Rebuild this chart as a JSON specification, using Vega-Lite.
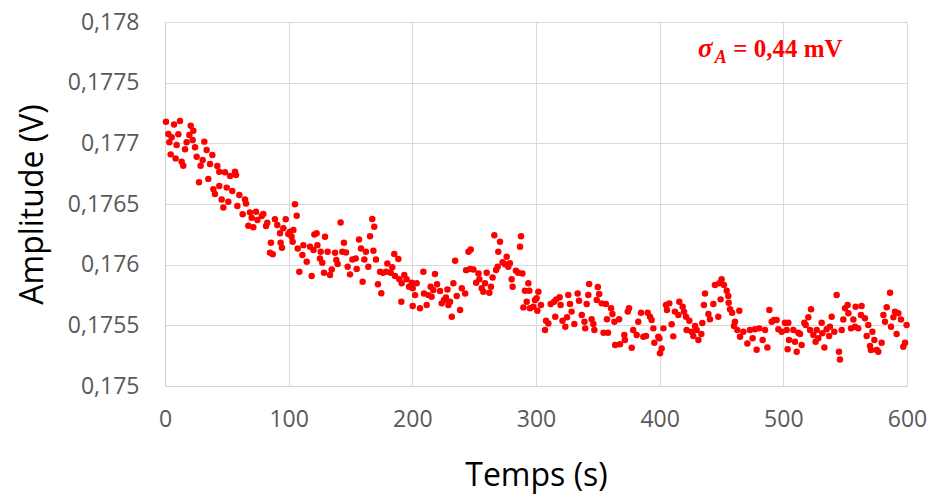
{
  "$schema": "https://vega.github.io/schema/vega-lite/v6.json",
  "autosize": "none",
  "width": 742,
  "height": 364,
  "padding": {"left": 165, "top": 22, "right": 22, "bottom": 110},
  "background": "white",
  "config": {
    "view": {"stroke": null},
    "axis": {
      "gridColor": "#d9d9d9",
      "domainColor": "#d0d0d0",
      "ticks": false,
      "labelFlush": false,
      "labelFont": "Open Sans",
      "labelFontSize": 23,
      "labelColor": "#595959",
      "titleFont": "Open Sans",
      "titleFontSize": 32,
      "titleFontWeight": "normal",
      "titleColor": "#000000"
    }
  },
  "datasets": {
    "pts": [
      {"t":0.8,"v":0.177178},{"t":7.3,"v":0.177156},{"t":12.1,"v":0.177184},{"t":20.8,"v":0.177145},{"t":22.9,"v":0.177104},{"t":2.7,"v":0.177077},{"t":10.8,"v":0.177074},{"t":19.7,"v":0.177069},{"t":5.4,"v":0.17705},{"t":3.5,"v":0.177008},{"t":9.4,"v":0.176986},{"t":17.5,"v":0.177008},{"t":22.4,"v":0.177027},{"t":16.2,"v":0.176951},{"t":24.3,"v":0.176967},{"t":31.8,"v":0.177014},{"t":33.7,"v":0.176945},{"t":38.3,"v":0.176904},{"t":4.6,"v":0.176909},{"t":8.6,"v":0.176876},{"t":13.5,"v":0.176849},{"t":14.8,"v":0.176816},{"t":25.6,"v":0.17689},{"t":30.5,"v":0.176863},{"t":28.8,"v":0.176816},{"t":36.4,"v":0.17683},{"t":42.3,"v":0.176813},{"t":43.9,"v":0.176766},{"t":48.5,"v":0.176761},{"t":52.6,"v":0.176731},{"t":56.6,"v":0.176766},{"t":57.4,"v":0.176739},{"t":27.5,"v":0.176679},{"t":35.0,"v":0.176707},{"t":39.1,"v":0.176621},{"t":43.9,"v":0.176649},{"t":49.9,"v":0.176635},{"t":40.4,"v":0.176582},{"t":45.8,"v":0.176538},{"t":51.2,"v":0.176519},{"t":47.2,"v":0.176472},{"t":54.4,"v":0.176607},{"t":60.1,"v":0.176574},{"t":58.5,"v":0.176483},{"t":64.7,"v":0.176538},{"t":65.5,"v":0.176505},{"t":62.8,"v":0.176415},{"t":68.7,"v":0.176431},{"t":73.6,"v":0.176437},{"t":70.1,"v":0.176387},{"t":74.7,"v":0.176368},{"t":78.2,"v":0.176401},{"t":79.5,"v":0.176418},{"t":82.7,"v":0.176346},{"t":67.4,"v":0.176321},{"t":71.4,"v":0.176308},{"t":81.7,"v":0.176319},{"t":88.9,"v":0.176374},{"t":97.6,"v":0.176374},{"t":90.8,"v":0.176327},{"t":93.0,"v":0.176259},{"t":95.7,"v":0.1763},{"t":99.7,"v":0.176253},{"t":85.7,"v":0.176181},{"t":93.5,"v":0.176181},{"t":94.6,"v":0.17614},{"t":84.9,"v":0.176099},{"t":87.1,"v":0.176085},
      {"t":105.1,"v":0.176497},{"t":106.5,"v":0.176404},{"t":101.1,"v":0.176272},{"t":102.4,"v":0.17623},{"t":103.8,"v":0.176285},{"t":103.2,"v":0.176189},{"t":107.3,"v":0.176133},{"t":111.9,"v":0.176161},{"t":111.1,"v":0.176079},{"t":114.6,"v":0.176024},{"t":108.6,"v":0.175942},{"t":117.3,"v":0.176148},{"t":120.8,"v":0.176249},{"t":122.6,"v":0.176258},{"t":120.1,"v":0.17612},{"t":123.2,"v":0.176161},{"t":125.9,"v":0.176106},{"t":125.3,"v":0.176051},{"t":118.6,"v":0.175906},{"t":127.2,"v":0.176016},{"t":129.4,"v":0.17623},{"t":131.5,"v":0.176106},{"t":128.6,"v":0.175934},{"t":134.8,"v":0.175961},{"t":133.4,"v":0.175914},{"t":137.5,"v":0.176098},{"t":138.5,"v":0.176038},{"t":139.6,"v":0.176005},{"t":142.0,"v":0.176348},{"t":144.7,"v":0.17618},{"t":143.4,"v":0.176106},{"t":146.4,"v":0.1761},{"t":147.7,"v":0.175983},{"t":149.6,"v":0.17592},{"t":151.5,"v":0.176043},{"t":154.2,"v":0.176051},{"t":155.0,"v":0.175964},{"t":156.9,"v":0.176208},{"t":158.5,"v":0.176133},{"t":162.5,"v":0.176106},{"t":161.2,"v":0.176043},{"t":164.4,"v":0.175983},{"t":159.8,"v":0.175859},{"t":165.8,"v":0.176235},{"t":167.6,"v":0.176376},{"t":169.2,"v":0.176313},{"t":168.5,"v":0.176114},{"t":170.6,"v":0.176043},{"t":173.9,"v":0.175942},{"t":172.2,"v":0.175838},{"t":174.9,"v":0.175764},{"t":176.2,"v":0.175934},{"t":178.9,"v":0.175942},{"t":179.8,"v":0.17601},{"t":182.5,"v":0.175934},{"t":183.8,"v":0.175978},{"t":185.4,"v":0.176087},{"t":188.7,"v":0.176046},{"t":186.0,"v":0.175906},{"t":189.5,"v":0.175879},{"t":191.4,"v":0.175846},{"t":193.5,"v":0.175914},{"t":195.4,"v":0.175879},{"t":197.3,"v":0.175819},{"t":200.3,"v":0.175805},{"t":191.1,"v":0.175695},{"t":200.3,"v":0.175659},
      {"t":199.5,"v":0.175851},{"t":203.5,"v":0.175846},{"t":202.2,"v":0.175749},{"t":206.2,"v":0.17564},{"t":208.9,"v":0.175942},{"t":209.4,"v":0.175763},{"t":211.6,"v":0.175668},{"t":212.9,"v":0.175749},{"t":214.8,"v":0.175818},{"t":215.6,"v":0.175736},{"t":218.3,"v":0.175923},{"t":216.9,"v":0.175791},{"t":220.0,"v":0.175838},{"t":222.4,"v":0.175783},{"t":223.7,"v":0.175681},{"t":225.6,"v":0.175708},{"t":227.2,"v":0.17573},{"t":228.4,"v":0.175796},{"t":229.2,"v":0.175667},{"t":230.5,"v":0.175695},{"t":231.9,"v":0.175571},{"t":234.6,"v":0.176033},{"t":233.2,"v":0.175846},{"t":235.9,"v":0.175741},{"t":238.6,"v":0.175626},{"t":240.0,"v":0.175805},{"t":242.7,"v":0.175763},{"t":243.5,"v":0.175955},{"t":245.4,"v":0.176106},{"t":247.2,"v":0.176125},{"t":246.7,"v":0.175964},{"t":249.4,"v":0.175961},{"t":251.6,"v":0.175851},{"t":253.5,"v":0.175928},{"t":254.2,"v":0.175879},{"t":256.1,"v":0.175805},{"t":257.4,"v":0.175777},{"t":258.8,"v":0.175846},{"t":260.1,"v":0.175934},{"t":262.3,"v":0.175769},{"t":263.6,"v":0.175818},{"t":264.9,"v":0.175895},{"t":266.3,"v":0.176243},{"t":267.7,"v":0.175956},{"t":269.0,"v":0.175983},{"t":269.5,"v":0.176106},{"t":270.9,"v":0.176188},{"t":273.0,"v":0.176019},{"t":274.9,"v":0.176003},{"t":276.3,"v":0.176065},{"t":277.6,"v":0.175983},{"t":278.9,"v":0.176011},{"t":280.3,"v":0.175879},{"t":281.1,"v":0.175818},{"t":283.8,"v":0.17595},{"t":285.6,"v":0.175934},{"t":287.1,"v":0.176147},{"t":287.9,"v":0.176235},{"t":289.0,"v":0.175928},{"t":289.8,"v":0.175648},{"t":291.1,"v":0.175785},{"t":292.5,"v":0.175695},{"t":293.8,"v":0.175846},{"t":294.6,"v":0.175785},{"t":295.1,"v":0.17564},{"t":297.8,"v":0.175654},{"t":299.2,"v":0.175709},
      {"t":301.9,"v":0.175777},{"t":300.5,"v":0.175723},{"t":304.0,"v":0.175667},{"t":301.1,"v":0.175621},{"t":308.1,"v":0.175538},{"t":307.3,"v":0.175461},{"t":310.0,"v":0.175516},{"t":311.9,"v":0.175676},{"t":314.6,"v":0.175695},{"t":316.4,"v":0.175714},{"t":319.1,"v":0.175731},{"t":319.9,"v":0.175667},{"t":315.6,"v":0.175571},{"t":321.4,"v":0.175538},{"t":323.7,"v":0.175489},{"t":325.1,"v":0.175566},{"t":326.1,"v":0.17575},{"t":327.5,"v":0.175676},{"t":328.8,"v":0.175613},{"t":331.0,"v":0.175511},{"t":333.7,"v":0.175763},{"t":334.8,"v":0.175703},{"t":337.0,"v":0.175585},{"t":339.2,"v":0.17553},{"t":339.8,"v":0.175475},{"t":341.0,"v":0.175676},{"t":343.0,"v":0.17584},{"t":342.3,"v":0.17575},{"t":345.0,"v":0.17555},{"t":346.4,"v":0.175511},{"t":347.2,"v":0.175461},{"t":349.1,"v":0.175709},{"t":350.0,"v":0.175815},{"t":351.1,"v":0.175758},{"t":353.2,"v":0.175681},{"t":356.5,"v":0.175676},{"t":354.6,"v":0.175439},{"t":358.2,"v":0.175439},{"t":357.4,"v":0.17555},{"t":360.7,"v":0.17564},{"t":361.8,"v":0.175593},{"t":363.4,"v":0.17553},{"t":364.0,"v":0.175337},{"t":367.2,"v":0.17555},{"t":367.9,"v":0.175345},{"t":371.4,"v":0.17542},{"t":371.9,"v":0.175379},{"t":374.2,"v":0.175613},{"t":375.2,"v":0.17564},{"t":377.4,"v":0.175315},{"t":378.6,"v":0.175461},{"t":381.4,"v":0.17542},{"t":382.7,"v":0.17553},{"t":384.9,"v":0.175604},{"t":386.8,"v":0.175406},{"t":389.0,"v":0.175412},{"t":390.3,"v":0.175604},{"t":392.2,"v":0.175571},{"t":393.5,"v":0.175544},{"t":394.9,"v":0.175475},{"t":395.7,"v":0.175357},{"t":398.9,"v":0.175406},
      {"t":401.6,"v":0.17531},{"t":400.3,"v":0.175269},{"t":403.0,"v":0.175475},{"t":399.8,"v":0.175393},{"t":405.1,"v":0.175667},{"t":407.8,"v":0.175681},{"t":405.9,"v":0.175626},{"t":409.7,"v":0.175508},{"t":411.0,"v":0.175409},{"t":412.3,"v":0.175613},{"t":415.1,"v":0.175585},{"t":415.9,"v":0.175695},{"t":418.6,"v":0.175654},{"t":419.7,"v":0.175613},{"t":421.3,"v":0.175571},{"t":424.0,"v":0.175538},{"t":421.8,"v":0.175461},{"t":425.9,"v":0.175448},{"t":427.2,"v":0.175412},{"t":429.9,"v":0.175461},{"t":431.3,"v":0.175379},{"t":428.6,"v":0.175494},{"t":433.7,"v":0.175428},{"t":434.5,"v":0.175519},{"t":436.7,"v":0.175763},{"t":435.8,"v":0.175667},{"t":439.4,"v":0.175593},{"t":440.7,"v":0.17555},{"t":443.4,"v":0.175676},{"t":444.7,"v":0.175832},{"t":447.4,"v":0.175571},{"t":448.2,"v":0.175846},{"t":450.1,"v":0.175879},{"t":452.0,"v":0.175832},{"t":449.3,"v":0.175714},{"t":454.2,"v":0.175785},{"t":455.5,"v":0.175741},{"t":455.8,"v":0.175686},{"t":456.9,"v":0.175632},{"t":458.6,"v":0.175604},{"t":464.4,"v":0.175621},{"t":460.9,"v":0.17553},{"t":460.1,"v":0.175494},{"t":462.8,"v":0.175461},{"t":465.0,"v":0.175406},{"t":467.7,"v":0.175448},{"t":470.9,"v":0.175351},{"t":473.0,"v":0.175461},{"t":475.2,"v":0.175393},{"t":477.1,"v":0.175467},{"t":478.4,"v":0.175299},{"t":480.6,"v":0.175475},{"t":483.3,"v":0.175379},{"t":485.2,"v":0.175461},{"t":487.1,"v":0.175318},{"t":488.7,"v":0.175626},{"t":490.6,"v":0.17553},{"t":492.5,"v":0.175544},{"t":494.6,"v":0.175544},{"t":496.0,"v":0.175467},{"t":498.7,"v":0.175448},
      {"t":501.3,"v":0.175521},{"t":504.0,"v":0.175521},{"t":502.7,"v":0.175461},{"t":504.6,"v":0.175379},{"t":503.5,"v":0.175302},{"t":508.1,"v":0.175461},{"t":509.4,"v":0.175365},{"t":510.8,"v":0.175282},{"t":512.1,"v":0.175439},{"t":513.5,"v":0.175428},{"t":514.8,"v":0.175337},{"t":517.0,"v":0.175521},{"t":518.1,"v":0.175502},{"t":520.2,"v":0.175566},{"t":521.6,"v":0.175461},{"t":522.4,"v":0.175632},{"t":524.3,"v":0.17542},{"t":526.1,"v":0.175365},{"t":528.3,"v":0.175393},{"t":527.0,"v":0.175461},{"t":531.0,"v":0.175521},{"t":531.5,"v":0.175434},{"t":533.2,"v":0.175318},{"t":535.0,"v":0.175467},{"t":537.0,"v":0.175412},{"t":537.7,"v":0.175489},{"t":539.1,"v":0.175571},{"t":541.2,"v":0.175448},{"t":543.1,"v":0.17575},{"t":545.0,"v":0.175282},{"t":545.8,"v":0.175219},{"t":547.2,"v":0.175461},{"t":548.5,"v":0.175549},{"t":549.9,"v":0.17564},{"t":552.0,"v":0.175668},{"t":552.6,"v":0.175599},{"t":554.7,"v":0.175475},{"t":556.6,"v":0.175549},{"t":558.5,"v":0.175654},{"t":558.0,"v":0.175489},{"t":560.6,"v":0.175475},{"t":563.3,"v":0.175659},{"t":562.8,"v":0.175585},{"t":566.0,"v":0.175558},{"t":567.4,"v":0.175412},{"t":568.7,"v":0.175502},{"t":570.1,"v":0.175329},{"t":572.0,"v":0.175448},{"t":570.9,"v":0.175296},{"t":573.6,"v":0.175379},{"t":575.5,"v":0.175296},{"t":576.8,"v":0.175282},{"t":579.5,"v":0.175357},{"t":580.9,"v":0.175585},{"t":582.2,"v":0.17553},{"t":583.6,"v":0.175649},{"t":586.3,"v":0.175769},{"t":587.1,"v":0.175489},{"t":589.0,"v":0.175566},{"t":590.3,"v":0.175612},{"t":593.0,"v":0.175599},{"t":595.1,"v":0.175549},{"t":591.6,"v":0.175428},{"t":598.4,"v":0.175357},{"t":597.0,"v":0.175324},{"t":599.7,"v":0.175502}
    ]
  },
  "layer": [
    {
      "data": {"name": "pts"},
      "mark": {"type": "circle", "size": 42, "opacity": 1, "color": "#ff0000"},
      "encoding": {
        "x": {
          "field": "t", "type": "quantitative",
          "scale": {"domain": [0, 600], "nice": false, "zero": false},
          "axis": {"values": [0, 100, 200, 300, 400, 500, 600], "title": "Temps (s)", "labelPadding": 22, "titlePadding": 29, "grid": true}
        },
        "y": {
          "field": "v", "type": "quantitative",
          "scale": {"domain": [0.175, 0.178], "nice": false, "zero": false},
          "axis": {
            "values": [0.175, 0.1755, 0.176, 0.1765, 0.177, 0.1775, 0.178],
            "labelExpr": "replace(format(datum.value, '.4~f'), '.', ',')",
            "title": "Amplitude (V)", "labelPadding": 26, "titlePadding": 18, "grid": true
          }
        }
      }
    },
    {
      "data": {"values": [{}]},
      "mark": {"type": "text", "font": "Liberation Serif", "fontSize": 27, "fontWeight": "bold", "fontStyle": "italic", "color": "#ff0000", "align": "left", "baseline": "alphabetic"},
      "encoding": {
        "x": {"datum": 431},
        "y": {"datum": 0.1777115},
        "text": {"value": "σ"}
      }
    },
    {
      "data": {"values": [{}]},
      "mark": {"type": "text", "font": "Liberation Serif", "fontSize": 18, "fontWeight": "bold", "fontStyle": "italic", "color": "#ff0000", "align": "left", "baseline": "alphabetic"},
      "encoding": {
        "x": {"datum": 444.5},
        "y": {"datum": 0.177662},
        "text": {"value": "A"}
      }
    },
    {
      "data": {"values": [{}]},
      "mark": {"type": "text", "font": "Liberation Serif", "fontSize": 25, "fontWeight": "bold", "color": "#ff0000", "align": "left", "baseline": "alphabetic"},
      "encoding": {
        "x": {"datum": 459.5},
        "y": {"datum": 0.1777115},
        "text": {"value": "= 0,44 mV"}
      }
    }
  ]
}
